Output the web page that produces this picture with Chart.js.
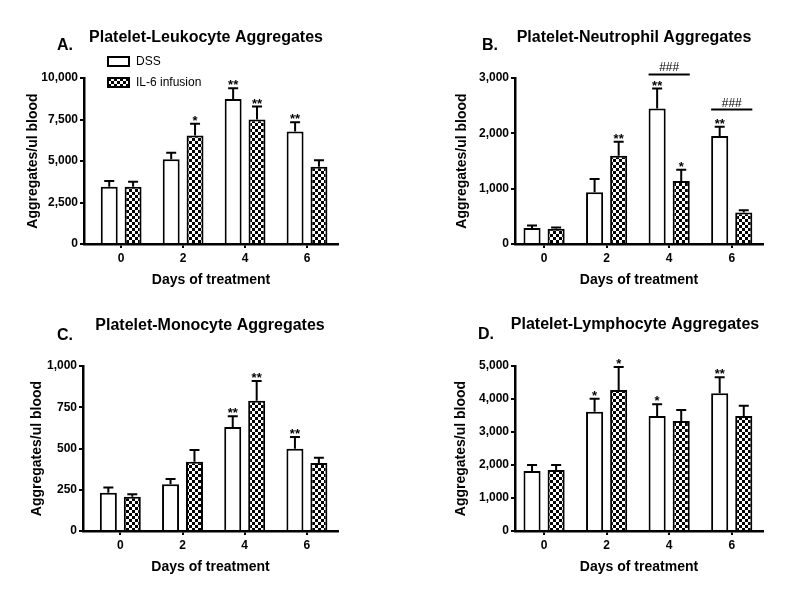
<!DOCTYPE html>
<html>
<head>
<meta charset="utf-8">
<script src="https://cdn.jsdelivr.net/npm/chart.js@4.4.1/dist/chart.umd.min.js"></script>
<style>
  body { margin: 0; background: #fff; }
  #wrap { position: relative; width: 800px; height: 595px; }
  canvas { position: absolute; }
</style>
</head>
<body>
<div id="wrap">
  <canvas id="cA" width="400" height="300" style="left:0;top:0"></canvas>
  <canvas id="cB" width="400" height="300" style="left:400px;top:0"></canvas>
  <canvas id="cC" width="400" height="295" style="left:0;top:300px"></canvas>
  <canvas id="cD" width="400" height="295" style="left:400px;top:300px"></canvas>
</div>
<script>
// days on the x axis
const days = [0, 2, 4, 6];

// A. leukocyte
const leukoDss = [3450, 5100, 8740, 6780];
const leukoDssErr = [350, 400, 640, 560];
const leukoIl6 = [3450, 6540, 7500, 4660];
const leukoIl6Err = [300, 700, 780, 380];
const leukoDssStars = ['', '', '**', '**'];
const leukoIl6Stars = ['', '*', '**', ''];
const leukoTicks = [0, 2500, 5000, 7500, 10000];

// B. neutrophil
const neutroDss = [290, 936, 2448, 1950];
const neutroDssErr = [45, 240, 360, 170];
const neutroIl6 = [275, 1596, 1140, 570];
const neutroIl6Err = [25, 252, 200, 40];
const neutroDssStars = ['', '', '**', '**'];
const neutroIl6Stars = ['', '**', '*', ''];
const neutroHash = ['', '', '###', '###'];
const neutroHashLevel = [null, null, 3065, 2430];
const neutroTicks = [0, 1000, 2000, 3000];

// C. monocyte
const monoDss = [232, 283, 630, 499];
const monoDssErr = [31, 32, 65, 71];
const monoIl6 = [208, 420, 790, 412];
const monoIl6Err = [14, 71, 119, 32];
const monoDssStars = ['', '', '**', '**'];
const monoIl6Stars = ['', '', '**', ''];
const monoTicks = [0, 250, 500, 750, 1000];

// D. lymphocyte
const lymphoDss = [1818, 3616, 3485, 4172];
const lymphoDssErr = [182, 394, 353, 485];
const lymphoIl6 = [1848, 4273, 3333, 3485];
const lymphoIl6Err = [152, 697, 334, 313];
const lymphoDssStars = ['', '*', '*', '**'];
const lymphoIl6Stars = ['', '*', '', ''];
const lymphoTicks = [0, 1000, 2000, 3000, 4000, 5000];

const FONT = '"Liberation Sans", Arial, Helvetica, sans-serif';
Chart.defaults.font.family = FONT;
Chart.defaults.color = '#000';

function checker() {
  const c = document.createElement('canvas');
  c.width = 6; c.height = 6;
  const g = c.getContext('2d');
  g.fillStyle = '#fff';
  g.fillRect(0, 0, 6, 6);
  g.fillStyle = '#000';
  g.fillRect(0, 0, 3, 3);
  g.fillRect(3, 3, 3, 3);
  return g.createPattern(c, 'repeat');
}
const pattern = checker();

const extras = {
  id: 'extras',
  afterDatasetsDraw(chart, args, opts) {
    const ctx = chart.ctx;
    const y = chart.scales.y;
    ctx.save();
    ctx.strokeStyle = '#000';
    ctx.fillStyle = '#000';
    ctx.lineWidth = 2;
    chart.data.datasets.forEach((ds, i) => {
      chart.getDatasetMeta(i).data.forEach((bar, j) => {
        const top = y.getPixelForValue(ds.data[j].y + ds.err[j]);
        ctx.beginPath();
        ctx.moveTo(bar.x, bar.y);
        ctx.lineTo(bar.x, top);
        ctx.moveTo(bar.x - 5, top);
        ctx.lineTo(bar.x + 5, top);
        ctx.stroke();
        if (ds.stars[j]) {
          ctx.font = 'bold 13px ' + FONT;
          ctx.textAlign = 'center';
          ctx.textBaseline = 'alphabetic';
          ctx.fillText(ds.stars[j], bar.x, top + 1);
        }
      });
    });
    if (opts.hash) {
      const m0 = chart.getDatasetMeta(0).data, m1 = chart.getDatasetMeta(1).data;
      opts.hash.forEach((h, j) => {
        if (!h) return;
        const py = y.getPixelForValue(opts.hashLevel[j]);
        const x0 = m0[j].x - m0[j].width / 2, x1 = m1[j].x + m1[j].width / 2;
        ctx.beginPath();
        ctx.moveTo(x0, py);
        ctx.lineTo(x1, py);
        ctx.stroke();
        ctx.font = '12px ' + FONT;
        ctx.textAlign = 'center';
        ctx.textBaseline = 'alphabetic';
        ctx.fillText(h, (x0 + x1) / 2, py - 3);
      });
    }
    ctx.restore();
  },
  afterDraw(chart, args, opts) {
    const ctx = chart.ctx;
    ctx.save();
    ctx.fillStyle = '#000';
    ctx.textBaseline = 'alphabetic';
    ctx.font = 'bold 16px ' + FONT;
    ctx.textAlign = 'left';
    ctx.fillText(opts.letter, opts.letterX, opts.letterY);
    ctx.textAlign = 'center';
    ctx.fillText(opts.title, opts.titleX, opts.titleY);
    if (opts.legend) {
      const ds = chart.data.datasets;
      ctx.font = '12px ' + FONT;
      ctx.textAlign = 'left';
      ctx.textBaseline = 'middle';
      ctx.lineWidth = 2;
      ctx.strokeStyle = '#000';
      [57, 78].forEach((ty, i) => {
        ctx.fillStyle = ds[i].backgroundColor;
        ctx.fillRect(108, ty, 21, 9);
        ctx.strokeRect(108, ty, 21, 9);
        ctx.fillStyle = '#000';
        ctx.fillText(ds[i].label, 136, ty + 5);
      });
    }
    ctx.restore();
  }
};

function panel(p) {
  const W = p.canvas.width, H = p.canvas.height;
  const axisBorder = { display: true, color: '#000', width: 2.5 };
  const tickFont = { family: FONT, size: 12, weight: 'bold' };
  const titleFont = { family: FONT, size: 14, weight: 'bold' };
  return new Chart(p.canvas, {
    type: 'bar',
    data: {
      datasets: [
        {
          label: 'DSS',
          data: days.map((d, i) => ({ x: d, y: p.dss[i] })),
          err: p.dssErr, stars: p.dssStars,
          backgroundColor: '#fff', borderColor: '#000', borderWidth: 2,
          categoryPercentage: 0.77, barPercentage: 0.71
        },
        {
          label: 'IL-6 infusion',
          data: days.map((d, i) => ({ x: d, y: p.il6[i] })),
          err: p.il6Err, stars: p.il6Stars,
          backgroundColor: pattern, borderColor: '#000', borderWidth: 2,
          categoryPercentage: 0.77, barPercentage: 0.71
        }
      ]
    },
    options: {
      responsive: false,
      animation: false,
      layout: { padding: { left: 0, top: p.top, right: W - p.right, bottom: H - p.bottom - 50 } },
      scales: {
        x: {
          type: 'linear', min: p.xMin, max: p.xMax, offset: false,
          afterBuildTicks: s => { s.ticks = days.map(v => ({ value: v })); },
          afterFit: s => { s.height = 50; },
          border: axisBorder,
          grid: { offset: false, drawOnChartArea: false, drawTicks: true, tickLength: 4, color: '#000', lineWidth: 2 },
          ticks: { color: '#000', font: tickFont, padding: 3 },
          title: { display: true, text: 'Days of treatment', color: '#000', font: titleFont, padding: { top: 0, bottom: 5.6 } }
        },
        y: {
          min: 0, max: p.ticks[p.ticks.length - 1],
          afterBuildTicks: s => { s.ticks = p.ticks.map(v => ({ value: v })); },
          afterFit: s => { s.width = p.left; },
          border: axisBorder,
          grid: { drawOnChartArea: false, drawTicks: true, tickLength: 4, color: '#000', lineWidth: 2 },
          ticks: { color: '#000', font: tickFont, padding: 2, callback: v => v.toLocaleString('en-US') },
          title: { display: true, text: 'Aggregates/ul blood', color: '#000', font: titleFont, padding: { top: p.yTitleX - 8.4, bottom: 0 } }
        }
      },
      plugins: {
        legend: { display: false },
        tooltip: { enabled: false },
        extras: {
          letter: p.letter, letterX: p.letterX, letterY: p.letterY,
          title: p.title, titleX: p.titleX, titleY: p.titleY,
          legend: p.legend, hash: p.hash, hashLevel: p.hashLevel
        }
      }
    },
    plugins: [extras]
  });
}

panel({
  canvas: document.getElementById('cA'),
  dss: leukoDss, dssErr: leukoDssErr, dssStars: leukoDssStars,
  il6: leukoIl6, il6Err: leukoIl6Err, il6Stars: leukoIl6Stars, ticks: leukoTicks,
  left: 84, right: 338, top: 78, bottom: 244, xMin: -1.2, xMax: 7, yTitleX: 33,
  letter: 'A.', letterX: 57, letterY: 50,
  title: 'Platelet-Leukocyte Aggregates', titleX: 206, titleY: 42, legend: true
});
panel({
  canvas: document.getElementById('cB'),
  dss: neutroDss, dssErr: neutroDssErr, dssStars: neutroDssStars,
  il6: neutroIl6, il6Err: neutroIl6Err, il6Stars: neutroIl6Stars, ticks: neutroTicks,
  left: 115, right: 363, top: 78, bottom: 244, xMin: -0.93, xMax: 7, yTitleX: 62,
  letter: 'B.', letterX: 82, letterY: 50,
  title: 'Platelet-Neutrophil Aggregates', titleX: 234, titleY: 42,
  hash: neutroHash, hashLevel: neutroHashLevel
});
panel({
  canvas: document.getElementById('cC'),
  dss: monoDss, dssErr: monoDssErr, dssStars: monoDssStars,
  il6: monoIl6, il6Err: monoIl6Err, il6Stars: monoIl6Stars, ticks: monoTicks,
  left: 83, right: 338, top: 66, bottom: 231, xMin: -1.2, xMax: 7, yTitleX: 37,
  letter: 'C.', letterX: 57, letterY: 40,
  title: 'Platelet-Monocyte Aggregates', titleX: 210, titleY: 30
});
panel({
  canvas: document.getElementById('cD'),
  dss: lymphoDss, dssErr: lymphoDssErr, dssStars: lymphoDssStars,
  il6: lymphoIl6, il6Err: lymphoIl6Err, il6Stars: lymphoIl6Stars, ticks: lymphoTicks,
  left: 115, right: 363, top: 66, bottom: 231, xMin: -0.93, xMax: 7, yTitleX: 61,
  letter: 'D.', letterX: 78, letterY: 39,
  title: 'Platelet-Lymphocyte Aggregates', titleX: 235, titleY: 29
});
</script>
</body>
</html>
